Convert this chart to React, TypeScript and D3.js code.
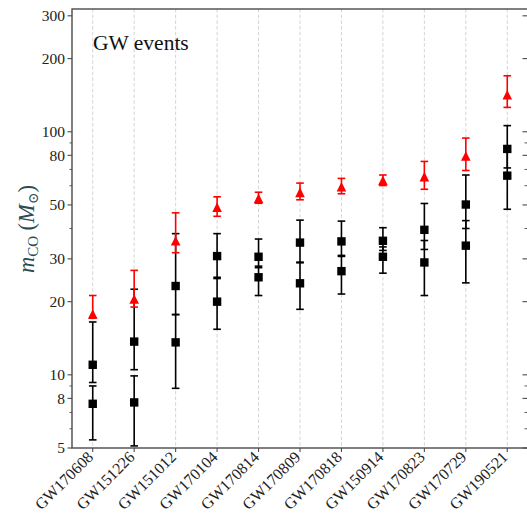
import { useEffect, useRef } from "react";
import * as d3 from "d3";

// events sorted by remnant mass
const events = ["GW170608", "GW151226", "GW151012", "GW170104", "GW170814", "GW170809", "GW170818", "GW150914", "GW170823", "GW170729", "GW190521"];
// primary mass and its errors
const m1 = [11.0, 13.7, 23.2, 30.8, 30.6, 35.0, 35.4, 35.6, 39.5, 50.2, 85];
const m1Up = [5.5, 8.8, 14.9, 7.3, 5.6, 8.3, 7.5, 4.7, 11.2, 16.2, 21];
const m1Lo = [1.7, 3.2, 5.5, 5.6, 3.0, 5.9, 4.7, 3.1, 6.7, 10.2, 14];
// secondary mass
const m2 = [7.6, 7.7, 13.6, 20.0, 25.2, 23.8, 26.7, 30.6, 29.0, 34.0, 66];
const m2Up = [1.4, 2.2, 4.1, 4.9, 2.8, 5.1, 4.3, 3.0, 6.7, 9.1, 17];
const m2Lo = [2.2, 2.6, 4.8, 4.6, 4.0, 5.2, 5.2, 4.4, 7.8, 10.1, 18];
// remnant mass
const mf = [17.8, 20.5, 35.6, 48.9, 53.2, 56.3, 59.4, 63.1, 65.4, 79.5, 142];
const mfUp = [3.4, 6.4, 10.8, 5.1, 3.2, 5.2, 4.9, 3.3, 10.1, 14.7, 28];
const mfLo = [0.7, 1.5, 3.8, 4.0, 2.4, 3.8, 3.8, 3.0, 7.4, 10.2, 16];

const majorTicks = [5, 8, 10, 20, 30, 50, 80, 100, 200, 300];
const minorTicks = [6, 7, 9, 40, 60, 70, 90];

const font = "'Liberation Serif', 'DejaVu Serif', serif";

function App() {
  const ref = useRef<SVGSVGElement>(null);

  useEffect(() => {
    const W = 527, H = 513;
    const margin = { top: 9, right: -1, bottom: 65, left: 72 };
    const width = W - margin.left - margin.right;
    const height = H - margin.top - margin.bottom;

    const svg = d3.select(ref.current);
    svg.selectAll("*").remove();
    const g = svg.append("g").attr("transform", `translate(${margin.left},${margin.top})`);

    const x = d3.scalePoint<string>().domain(events).range([0, width]).padding(0.5);
    const y = d3.scaleLog().domain([5, 320]).range([height, 0]);

    // vertical dashed grid
    g.selectAll(".grid")
      .data(events)
      .enter()
      .append("line")
      .attr("x1", (d) => x(d)!)
      .attr("x2", (d) => x(d)!)
      .attr("y1", 0)
      .attr("y2", height)
      .attr("stroke", "#cfcfcf")
      .attr("stroke-width", 0.9)
      .attr("stroke-dasharray", "3.5,2.2");

    // error bar helper
    const errBar = (vals: number[], up: number[], lo: number[], color: string) => {
      const eg = g.append("g").attr("stroke", color).attr("stroke-width", 1.6);
      events.forEach((e, i) => {
        const cx = x(e)!;
        const yt = y(vals[i] + up[i]);
        const yb = y(vals[i] - lo[i]);
        eg.append("line").attr("x1", cx).attr("x2", cx).attr("y1", yt).attr("y2", yb);
        eg.append("line").attr("x1", cx - 3.8).attr("x2", cx + 3.8).attr("y1", yt).attr("y2", yt);
        eg.append("line").attr("x1", cx - 3.8).attr("x2", cx + 3.8).attr("y1", yb).attr("y2", yb);
      });
    };

    errBar(m1, m1Up, m1Lo, "#000");
    errBar(m2, m2Up, m2Lo, "#000");

    [m1, m2].forEach((vals) => {
      g.append("g")
        .selectAll("rect")
        .data(vals)
        .enter()
        .append("rect")
        .attr("x", (d, i) => x(events[i])! - 4.2)
        .attr("y", (d) => y(d) - 4.2)
        .attr("width", 8.4)
        .attr("height", 8.4)
        .attr("fill", "#000");
    });

    errBar(mf, mfUp, mfLo, "#ff0000");
    const h = 4.8;
    g.append("g")
      .selectAll("path")
      .data(mf)
      .enter()
      .append("path")
      .attr("d", `M0,${-h}L${h},${h}L${-h},${h}Z`)
      .attr("transform", (d, i) => `translate(${x(events[i])},${y(d)})`)
      .attr("fill", "#ff0000");

    // spines
    const spine = "#4a4a4a";
    g.append("rect")
      .attr("x", 0)
      .attr("y", 0)
      .attr("width", width)
      .attr("height", height)
      .attr("fill", "none")
      .attr("stroke", spine)
      .attr("stroke-width", 1.4);

    // y ticks
    majorTicks.forEach((t) => {
      g.append("line").attr("x1", -4.5).attr("x2", 0).attr("y1", y(t)).attr("y2", y(t)).attr("stroke", spine).attr("stroke-width", 1.1);
      g.append("line").attr("x1", width - 5.5).attr("x2", width).attr("y1", y(t)).attr("y2", y(t)).attr("stroke", spine).attr("stroke-width", 1.1);
      g.append("text")
        .attr("x", -7)
        .attr("y", y(t))
        .attr("dy", "0.35em")
        .attr("text-anchor", "end")
        .style("font-family", font)
        .style("font-size", "15.5px")
        .attr("fill", "#222")
        .text(String(t));
    });
    minorTicks.forEach((t) => {
      g.append("line").attr("x1", -2.5).attr("x2", 0).attr("y1", y(t)).attr("y2", y(t)).attr("stroke", spine).attr("stroke-width", 0.9);
      g.append("line").attr("x1", width - 3.5).attr("x2", width).attr("y1", y(t)).attr("y2", y(t)).attr("stroke", spine).attr("stroke-width", 0.9);
    });

    // x ticks and rotated labels
    events.forEach((e) => {
      g.append("line").attr("x1", x(e)!).attr("x2", x(e)!).attr("y1", height).attr("y2", height + 4).attr("stroke", spine).attr("stroke-width", 1.1);
      g.append("text")
        .attr("text-anchor", "end")
        .attr("transform", `translate(${x(e)! + 1.5},${height + 10}) rotate(-45)`)
        .style("font-family", font)
        .style("font-size", "16px")
        .attr("fill", "#222")
        .text(e);
    });

    // annotation
    g.append("text")
      .attr("x", 21)
      .attr("y", 41)
      .style("font-family", font)
      .style("font-size", "21.5px")
      .attr("fill", "#111")
      .text("GW events");

    // y label
    const yl = svg
      .append("text")
      .attr("transform", `translate(34,229) rotate(-90)`)
      .attr("text-anchor", "middle")
      .style("font-family", font)
      .style("font-size", "22.5px")
      .attr("fill", "#2b4a52");
    yl.append("tspan").style("font-style", "italic").text("m");
    yl.append("tspan").attr("dy", 4).style("font-size", "15px").text("CO");
    yl.append("tspan").attr("dy", -4).text(" (");
    yl.append("tspan").style("font-style", "italic").text("M");
    yl.append("tspan").attr("dy", 4).style("font-size", "14px").text("⊙");
    yl.append("tspan").attr("dy", -4).text(")");
  }, []);

  return (
    <svg
      ref={ref}
      width={527}
      height={513}
      style={{ position: "absolute", left: 0, top: 0, background: "#fff" }}
    ></svg>
  );
}

export default App;
